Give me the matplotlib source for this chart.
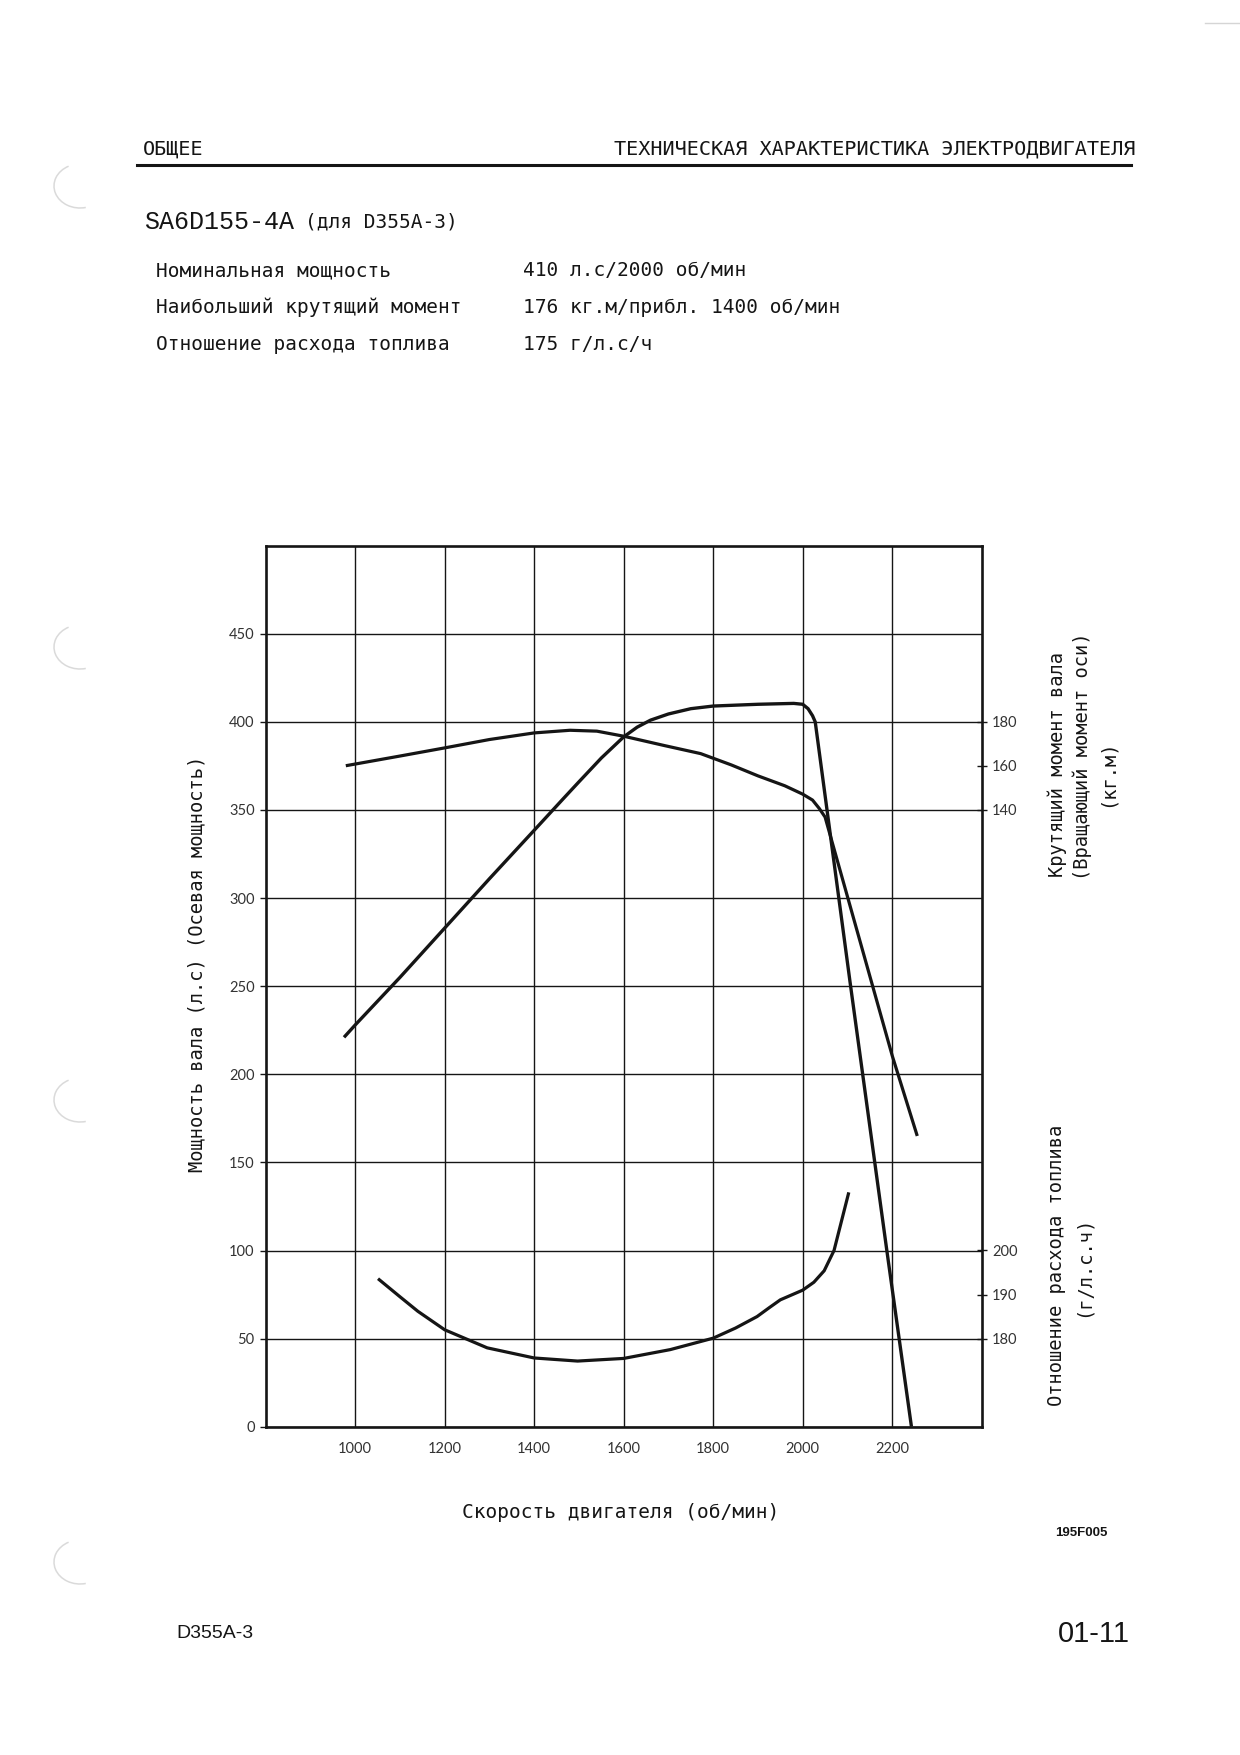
import matplotlib.pyplot as plt
from matplotlib.patches import Arc

# engine speed (rpm) vs shaft power (hp)
rpm_power = [975, 1000, 1100, 1200, 1300, 1400, 1466, 1500, 1550, 1600, 1630,
             1660, 1700, 1750, 1800, 1900, 1980, 2000, 2012, 2022, 2028, 2106,
             2188, 2243]
power_hp = [221, 228, 255, 283, 311, 338.5, 356.7, 366, 379.5, 391.5, 397,
            401, 404.5, 407.5, 409, 410, 410.5, 410, 407.5, 403.5, 400, 252,
            100, 0]

# engine speed vs torque (kg.m)
rpm_torque = [979, 1100, 1200, 1300, 1400, 1480, 1540, 1600, 1690, 1772, 1840,
              1900, 1960, 2000, 2022, 2037, 2050, 2200, 2256]
torque_kgm = [160.1, 164.5, 168.2, 172, 175, 176.2, 175.8, 173.5, 169.3, 165.6,
              160.5, 155.5, 151, 147.2, 144.5, 140.7, 136.8, 28.5, -8]

# engine speed vs fuel consumption ratio (g/hp.h)
rpm_fuel = [1051, 1100, 1140, 1200, 1295, 1400, 1497, 1600, 1704, 1800, 1850,
            1898, 1925, 1950, 2000, 2025, 2048, 2070, 2085, 2103]
fuel_gph = [193.6, 189.5, 186.2, 182, 177.9, 175.6, 174.9, 175.5, 177.5, 180.1,
            182.4, 185, 187, 188.8, 191, 192.8, 195.4, 200, 206, 213.2]

x_ticks = [1000, 1200, 1400, 1600, 1800, 2000, 2200]
power_ticks = [0, 50, 100, 150, 200, 250, 300, 350, 400, 450]
torque_ticks = [140, 160, 180]
fuel_ticks = [180, 190, 200]

header_left = "ОБЩЕЕ"
header_right = "ТЕХНИЧЕСКАЯ ХАРАКТЕРИСТИКА ЭЛЕКТРОДВИГАТЕЛЯ"
model = "SA6D155-4A"
model_note = "(для D355A-3)"
spec_names = ["Номинальная мощность", "Наибольший крутящий момент",
              "Отношение расхода топлива"]
spec_values = ["410 л.с/2000 об/мин", "176 кг.м/прибл. 1400 об/мин",
               "175 г/л.с/ч"]

INK = "#151515"
MONO = ["DejaVu Sans Mono"]
TICKF = ["Lato", "DejaVu Sans"]
W, H = 1240, 1755


def fx(px):
    return px / W


def fy(py):
    return 1 - py / H


fig = plt.figure(figsize=(12.4, 17.55), dpi=100)
fig.patch.set_facecolor("white")

# page header
fig.text(fx(143), fy(149), header_left, family=MONO, fontsize=14.5, color=INK,
         va="center", ha="left")
fig.text(fx(1135), fy(149), header_right, family=MONO, fontsize=14.5, color=INK,
         va="center", ha="right")
fig.add_artist(plt.Line2D([fx(137), fx(1131)], [fy(165), fy(165)], color=INK,
                          lw=2.2, transform=fig.transFigure))

fig.text(fx(144), fy(222), model, family=["Liberation Mono"], fontsize=18,
         color=INK, va="center", ha="left")
fig.text(fx(305), fy(222), model_note, family=MONO, fontsize=14, color=INK,
         va="center", ha="left")
for i, (name, val) in enumerate(zip(spec_names, spec_values)):
    yy = fy(270.7 + i * 36.7)
    fig.text(fx(156), yy, name, family=MONO, fontsize=14, color=INK,
             va="center", ha="left")
    fig.text(fx(523), yy, val, family=MONO, fontsize=14, color=INK,
             va="center", ha="left")

# chart
ax = fig.add_axes([fx(265.7), fy(1426.7), fx(981.7) - fx(265.7),
                   fy(545.7) - fy(1426.7)])
ax.set_xlim(800, 2400)
ax.set_ylim(0, 500)
ax.set_xticks(x_ticks)
ax.set_yticks(power_ticks)
ax.grid(True, color=INK, lw=1.0)
ax.set_axisbelow(True)
for s in ax.spines.values():
    s.set_linewidth(1.9)
    s.set_color(INK)
ax.tick_params(axis="x", length=0, pad=11, labelsize=10.5, labelcolor="#333333")
ax.tick_params(axis="y", direction="out", length=4, width=1.0, pad=4,
               labelsize=10.5, labelcolor="#333333", color=INK)
for lab in ax.get_xticklabels() + ax.get_yticklabels():
    lab.set_family(TICKF)

ax.plot(rpm_power, power_hp, color=INK, lw=2.4, solid_capstyle="butt",
        solid_joinstyle="round")

ax_t = ax.twinx()
ax_t.set_ylim(-140, 260)
ax_t.set_yticks(torque_ticks)
ax_t.plot(rpm_torque, torque_kgm, color=INK, lw=2.3, solid_capstyle="butt",
          solid_joinstyle="round")

ax_f = ax.twinx()
ax_f.set_ylim(160, 360)
ax_f.set_yticks(fuel_ticks)
ax_f.plot(rpm_fuel, fuel_gph, color=INK, lw=2.3, solid_capstyle="butt",
          solid_joinstyle="round")

for a in (ax_t, ax_f):
    for s in a.spines.values():
        s.set_visible(False)
    a.tick_params(axis="y", direction="inout", length=7, width=1.0, pad=4,
                  labelsize=10.5, labelcolor="#333333", color=INK)
    for lab in a.get_yticklabels():
        lab.set_family(TICKF)

# axis titles
fig.text(fx(197), fy(964), "Мощность вала (л.с) (Осевая мощность)",
         family=MONO, fontsize=13.5, color=INK, rotation=90,
         ha="center", va="center")
fig.text(fx(1057), fy(764), "Крутящий момент вала", family=MONO,
         fontsize=13.5, color=INK, rotation=90, ha="center", va="center")
fig.text(fx(1082), fy(756), "(Вращающий момент оси)", family=MONO,
         fontsize=13.5, color=INK, rotation=90, ha="center", va="center")
fig.text(fx(1107), fy(773), "(кг.м)", family=MONO,
         fontsize=13.5, color=INK, rotation=90, ha="center", va="center")
fig.text(fx(1057), fy(1265), "Отношение расхода топлива", family=MONO,
         fontsize=13.5, color=INK, rotation=90, ha="center", va="center")
fig.text(fx(1083), fy(1266), "(г/л.с.ч)", family=MONO,
         fontsize=13.5, color=INK, rotation=90, ha="center", va="center")
fig.text(fx(621), fy(1512), "Скорость двигателя (об/мин)", family=MONO,
         fontsize=14, color=INK, ha="center", va="center")

# figure code and footer
fig.text(fx(1108), fy(1533), "195F005", family=["Liberation Sans", "DejaVu Sans"],
         fontsize=9.5, weight="bold", color=INK, ha="right", va="center")
fig.text(fx(176), fy(1634), "D355A-3",
         family=["Liberation Sans Narrow", "Liberation Sans", "DejaVu Sans"],
         fontsize=14, color=INK, ha="left", va="center")
fig.text(fx(1130), fy(1634), "01-11",
         family=["Liberation Sans Narrow", "Liberation Sans", "DejaVu Sans"],
         fontsize=21, color=INK, ha="right", va="center")

# faint punch-hole marks from the scan
for cy in [186, 647, 1100, 1562]:
    fig.add_artist(Arc((0.80, (H - cy) / 100), 0.52, 0.44, theta1=120, theta2=285,
                       color="#dadada", lw=1.1, transform=fig.dpi_scale_trans))
fig.add_artist(plt.Line2D([fx(1205), fx(1240)], [fy(23), fy(23)], color="#d5d5d5",
                          lw=1.0, transform=fig.transFigure))

fig.savefig("out.png", dpi=100, facecolor="white")
